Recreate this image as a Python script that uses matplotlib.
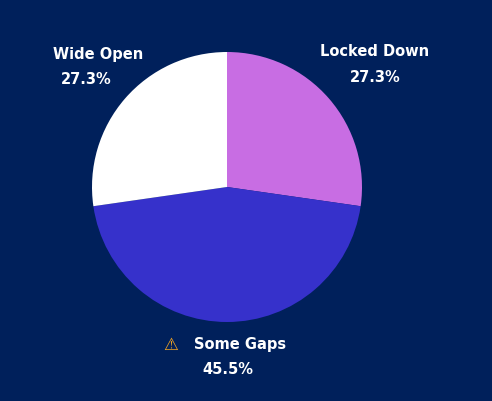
import matplotlib.pyplot as plt

labels = ['Locked Down', 'Some Gaps', 'Wide Open']
values = [27.3, 45.5, 27.3]
colors = ['#C86DE3', '#3631CB', '#FFFFFF']
bg = '#00205B'

fig = plt.figure(figsize=(4.92, 4.02), dpi=100, facecolor=bg)
ax = fig.add_axes([227/492 - 135/492, 1 - 188/402 - 135/402, 270/492, 270/402])
ax.set_facecolor(bg)
ax.pie(values, colors=colors, startangle=90, counterclock=False)
ax.set_aspect('equal')
ax.set_xlim(-1, 1)
ax.set_ylim(-1, 1)

# label positions in pixels (x, y from top)
pos = [(375, 52), (240, 345), (98, 55)]
for (x, y), lab, v in zip(pos, labels, values):
    fig.text(x/492, 1 - y/402, lab, color='white', fontsize=10.5,
             fontweight='bold', ha='center', va='center')
    fig.text((x - 12)/492 if lab != 'Locked Down' else x/492, 1 - (y + 25)/402,
             f'{v:.1f}%', color='white', fontsize=10.5, fontweight='bold',
             ha='center', va='center')

# warning icon next to "Some Gaps"
fig.text(171/492, 1 - 345/402, '\u26a0', color='#F5A623', fontsize=12,
         ha='center', va='center', family=['DejaVu Sans'])

fig.savefig('out.png', dpi=100, facecolor=bg)
